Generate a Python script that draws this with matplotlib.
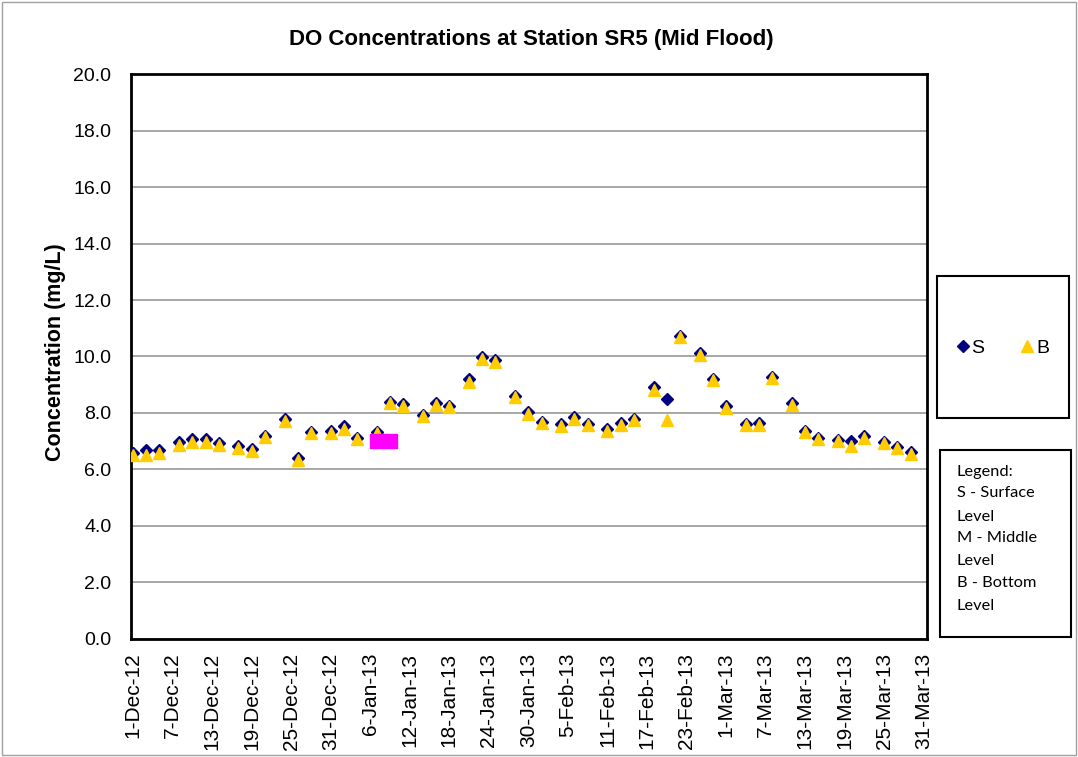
import matplotlib
matplotlib.use("Agg")
import matplotlib.pyplot as plt
import matplotlib.dates as mdates
from matplotlib.patches import Rectangle
from matplotlib.lines import Line2D
import pandas as pd

# ---------------- data ----------------
sample_dates = [
    "2012-12-01", "2012-12-03", "2012-12-05", "2012-12-08", "2012-12-10", "2012-12-12",
    "2012-12-14", "2012-12-17", "2012-12-19", "2012-12-21", "2012-12-24", "2012-12-26",
    "2012-12-28", "2012-12-31", "2013-01-02", "2013-01-04", "2013-01-07", "2013-01-09",
    "2013-01-11", "2013-01-14", "2013-01-16", "2013-01-18", "2013-01-21", "2013-01-23",
    "2013-01-25", "2013-01-28", "2013-01-30", "2013-02-01", "2013-02-04", "2013-02-06",
    "2013-02-08", "2013-02-11", "2013-02-13", "2013-02-15", "2013-02-18", "2013-02-20",
    "2013-02-22", "2013-02-25", "2013-02-27", "2013-03-01", "2013-03-04", "2013-03-06",
    "2013-03-08", "2013-03-11", "2013-03-13", "2013-03-15", "2013-03-18", "2013-03-20",
    "2013-03-22", "2013-03-25", "2013-03-27", "2013-03-29",
]
surface = [
    6.59, 6.70, 6.67, 6.96, 7.06, 7.06, 6.94, 6.82, 6.73, 7.20, 7.79, 6.40,
    7.34, 7.37, 7.52, 7.12, 7.34, 8.40, 8.32, 7.94, 8.34, 8.26, 9.20, 9.99,
    9.87, 8.61, 8.02, 7.69, 7.61, 7.87, 7.61, 7.43, 7.65, 7.79, 8.91, 8.51,
    10.73, 10.14, 9.22, 8.23, 7.61, 7.63, 9.28, 8.34, 7.35, 7.10, 7.05, 6.99,
    7.20, 6.96, 6.79, 6.61,
]
bottom = [
    6.50, 6.50, 6.59, 6.85, 6.96, 6.98, 6.87, 6.74, 6.66, 7.13, 7.71, 6.32,
    7.28, 7.30, 7.44, 7.06, 7.29, 8.36, 8.26, 7.88, 8.27, 8.22, 9.11, 9.91,
    9.79, 8.56, 7.95, 7.63, 7.53, 7.78, 7.58, 7.37, 7.58, 7.75, 8.82, 7.76,
    10.68, 10.07, 9.17, 8.19, 7.56, 7.56, 9.24, 8.29, 7.31, 7.06, 7.00, 6.84,
    7.10, 6.93, 6.76, 6.56,
]
middle_dates = ["2013-01-07", "2013-01-09"]
middle = [7.0, 7.0]

tick_labels = [
    "1-Dec-12", "7-Dec-12", "13-Dec-12", "19-Dec-12", "25-Dec-12", "31-Dec-12",
    "6-Jan-13", "12-Jan-13", "18-Jan-13", "24-Jan-13", "30-Jan-13", "5-Feb-13",
    "11-Feb-13", "17-Feb-13", "23-Feb-13", "1-Mar-13", "7-Mar-13", "13-Mar-13",
    "19-Mar-13", "25-Mar-13", "31-Mar-13",
]
y_ticks = [0.0, 2.0, 4.0, 6.0, 8.0, 10.0, 12.0, 14.0, 16.0, 18.0, 20.0]

title = "DO Concentrations at Station SR5 (Mid Flood)"
y_label = "Concentration (mg/L)"
legend_note = ["Legend:", "S - Surface", "Level", "M - Middle", "Level", "B - Bottom", "Level"]

# ---------------- figure ----------------
W, H = 1078, 757
fig = plt.figure(figsize=(W / 100, H / 100), dpi=100)
fig.patch.set_facecolor("white")

def fx(px):
    return px / W

def fy(py):
    return 1 - py / H

ax_l, ax_r, ax_t, ax_b = 130.7, 927.0, 74.3, 638.7
ax = fig.add_axes([fx(ax_l), fy(ax_b), fx(ax_r - ax_l), (ax_b - ax_t) / H])

xs = pd.to_datetime(sample_dates)
xm = pd.to_datetime(middle_dates)
ticks = pd.to_datetime(tick_labels, format="%d-%b-%y")

navy = "#000080"
gold = "#FFCC00"
magenta = "#FF00FF"

ax.plot(xs, surface, linestyle="none", marker="D", markersize=6.6,
        color=navy, markeredgecolor=navy, zorder=3)
ax.plot(xs, bottom, linestyle="none", marker="^", markersize=9.3,
        color=gold, markeredgecolor=gold, zorder=4)
ax.plot(xm, middle, linestyle="none", marker="s", markersize=9.4,
        color=magenta, markeredgecolor=magenta, zorder=5)

start = ticks[0]
ax.set_xlim(start - pd.Timedelta(hours=8.5), ticks[-1] + pd.Timedelta(hours=12))
ax.set_ylim(0, 20)
ax.set_xticks(ticks)
ax.set_xticklabels(tick_labels, rotation=90, fontsize=15, family="Liberation Sans")
ax.set_yticks(y_ticks)
ax.set_yticklabels([f"{v:.1f}" for v in y_ticks], fontsize=14, family="Liberation Sans")
ax.tick_params(axis="both", length=0)
ax.tick_params(axis="y", pad=14)
ax.tick_params(axis="x", pad=10)
ax.grid(axis="y", color="#A0A0A0", linewidth=1.3)
ax.set_axisbelow(True)
for s in ax.spines.values():
    s.set_linewidth(2)
    s.set_color("black")

fig.text(fx(531), fy(40), title, ha="center", va="center",
         fontsize=16, fontweight="bold", family="Liberation Sans")
fig.text(fx(55), fy(352), y_label, ha="center", va="center", rotation=90,
         fontsize=15.5, fontweight="bold", family="Liberation Sans")

# legend box 1
fig.patches.append(Rectangle((fx(936.7), fy(417.7)), fx(1069 - 936.7), (417.7 - 276) / H,
                             transform=fig.transFigure, fill=False,
                             edgecolor="black", linewidth=1.5))
handles = [
    Line2D([], [], linestyle="none", marker="D", markersize=6, color=navy),
    Line2D([], [], linestyle="none", marker="^", markersize=9, color=gold),
]
leg = fig.legend(handles, ["S", "B"], ncol=2, loc="center",
                 bbox_to_anchor=(fx(1003), fy(348)), frameon=False,
                 prop={"family": "Liberation Sans", "size": 14},
                 handlelength=0.6, handletextpad=0.15, columnspacing=1.9)

# legend box 2
fig.patches.append(Rectangle((fx(940), fy(636.7)), fx(1071.3 - 940), (636.7 - 450) / H,
                             transform=fig.transFigure, fill=False,
                             edgecolor="black", linewidth=1.5))
line_y = [471.7, 493.3, 516.7, 538.3, 561.0, 583.3, 606.0]
for txt, yy in zip(legend_note, line_y):
    fig.text(fx(956.7), fy(yy), txt, ha="left", va="center",
             fontsize=11.8, family="Lato")

# outer chart border
fig.patches.append(Rectangle((0.002, 0.002), 0.996, 0.996, transform=fig.transFigure,
                             fill=False, edgecolor="#A0A0A0", linewidth=1))

fig.savefig("out.png", dpi=100)
